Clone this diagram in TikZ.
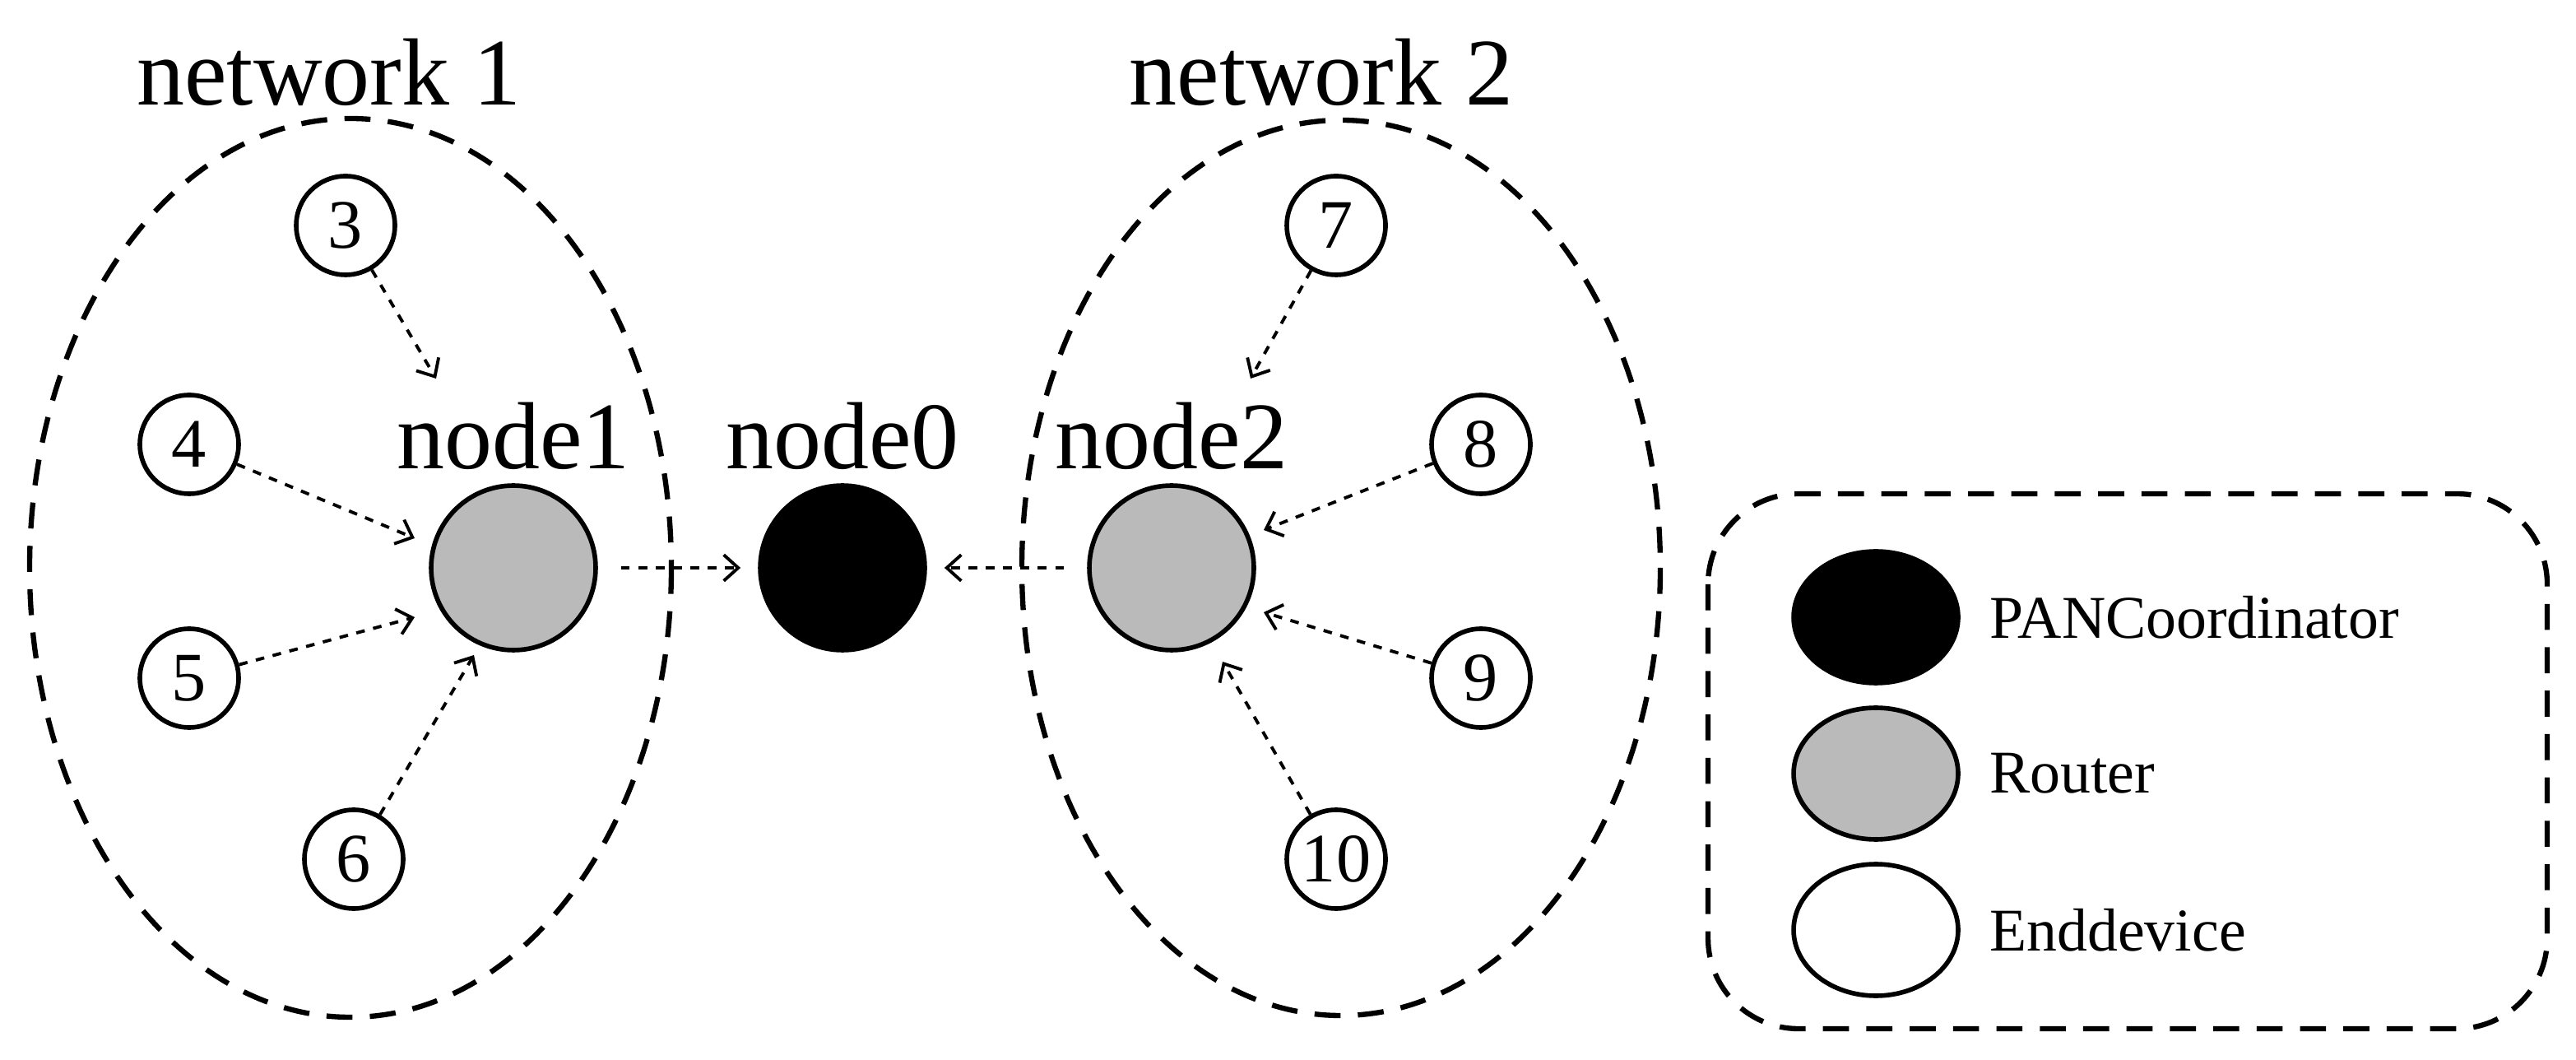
\documentclass[tikz,border=0pt]{standalone}
\usepackage{fontspec}
\setmainfont{Liberation Serif}
\usetikzlibrary{arrows.meta}
\begin{document}
\begin{tikzpicture}[x=0.02cm,y=-0.02cm,
  dev/.style={circle, draw, line width=1.6pt, minimum size=1.2cm, inner sep=0pt, font=\fontsize{24}{24}\selectfont},
  router/.style={circle, draw, line width=1.6pt, fill=black!27, minimum size=2cm},
  coord/.style={circle, draw, line width=1.6pt, fill=black, minimum size=2cm},
  lbl/.style={font=\fontsize{33}{33}\selectfont},
  leg/.style={ellipse, draw, line width=1.6pt, minimum width=2cm, minimum height=1.6cm},
  legtxt/.style={anchor=west, font=\fontsize{21}{21}\selectfont},
  net/.style={draw, dashed, line width=1.8pt, dash pattern=on 9pt off 6pt},
  link/.style={draw, dashed, line width=1.1pt, -{Straight Barb[length=5pt,width=9pt]}}]
\useasboundingbox (0,0) rectangle (1565.5,644);
\usetikzlibrary{shapes.geometric}
% networks
\draw[net] (213,345) ellipse [x radius=195, y radius=273];
\draw[net] (815,345) ellipse [x radius=194, y radius=272];
\node[lbl] (n1) at (200,44) {network 1};
\node[lbl] (n2) at (803,44) {network 2};
% central nodes
\node[router] (node1) at (312,345) {};
\node[coord] (node0) at (512,345) {};
\node[router] (node2) at (712,345) {};
\node[lbl] (l1) at (312,265) {node1};
\node[lbl] (l0) at (512,265) {node0};
\node[lbl] (l2) at (712,265) {node2};
% end devices
\node[dev] (d3) at (210,137) {3};
\node[dev] (d4) at (115,270) {4};
\node[dev] (d5) at (115,412) {5};
\node[dev] (d6) at (215,522) {6};
\node[dev] (d7) at (812,137) {7};
\node[dev] (d8) at (900,270) {8};
\node[dev] (d9) at (900,412) {9};
\node[dev] (d10) at (812,522) {10};
% arrow targets
\coordinate (t3) at (265,230);
\coordinate (t4) at (252,327);
\coordinate (t5) at (252,375);
\coordinate (t6) at (288,398);
\coordinate (t7) at (760,230);
\coordinate (t8) at (768,322);
\coordinate (t9) at (768,372);
\coordinate (t10) at (743,402);
\draw[link] (d3) -- (t3);
\draw[link] (d4) -- (t4);
\draw[link] (d5) -- (t5);
\draw[link] (d6) -- (t6);
\draw[link] (d7) -- (t7);
\draw[link] (d8) -- (t8);
\draw[link] (d9) -- (t9);
\draw[link] (d10) -- (t10);
\draw[link] ([xshift=8]node1.east) -- ([xshift=-6]node0.west);
\draw[link] ([xshift=-8]node2.west) -- ([xshift=6]node0.east);
% legend
\draw[net, rounded corners=1.1cm] (1038,300) rectangle (1548,625);
\node[leg, fill=black] (k0) at (1140,375) {};
\node[leg, fill=black!27] (k1) at (1140,470) {};
\node[leg] (k2) at (1140,565) {};
\node[legtxt] (kt0) at (1203,375) {PANCoordinator};
\node[legtxt] (kt1) at (1203,470) {Router};
\node[legtxt] (kt2) at (1203,565) {Enddevice};
\end{tikzpicture}
\end{document}
